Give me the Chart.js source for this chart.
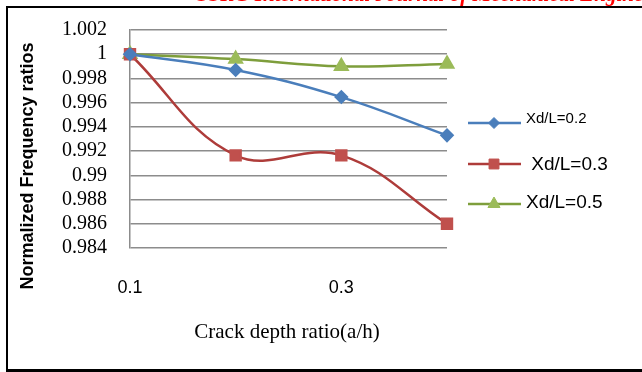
<!DOCTYPE html>
<html>
<head>
<meta charset="utf-8">
<script src="https://cdn.jsdelivr.net/npm/chart.js@4.4.1/dist/chart.umd.min.js"></script>
<style>
  html, body { margin: 0; padding: 0; background: #fff; }
  #wrap { position: relative; width: 642px; height: 372px; overflow: hidden; background: #fff; }
  #chart { position: absolute; left: 0; top: 0; }
  #journal { position: absolute; left: 197px; top: -16px; white-space: nowrap;
    font: italic bold 21px "Liberation Serif", "Times New Roman", serif; color: #ff0000; line-height: 21px; }
  .fl { position: absolute; background: #000; }
</style>
</head>
<body>
<div id="wrap">
  <canvas id="chart" width="642" height="372"></canvas>
  <div id="journal">SSRG International Journal of Mechanical Engineering</div>
  <div class="fl" style="left:6px; top:6px; width:636px; height:2px;"></div>
  <div class="fl" style="left:6px; top:6px; width:2px; height:365px;"></div>
  <div class="fl" style="left:6px; top:369px; width:636px; height:3px;"></div>
</div>
<script>
// ---- data ----
const categories = ['0.1', '0.2', '0.3', '0.4'];
const xTickLabels = ['0.1', '', '0.3', ''];
const seriesNames = ['Xd/L=0.2', ' Xd/L=0.3', 'Xd/L=0.5'];
const seriesA = [1.0000, 0.9987, 0.99646, 0.9933];   // Xd/L=0.2
const seriesB = [1.0000, 0.99165, 0.99165, 0.9860];  // Xd/L=0.3
const seriesC = [1.0000, 0.9996, 0.9990, 0.9992];    // Xd/L=0.5
const yTickValues = [0.984, 0.986, 0.988, 0.990, 0.992, 0.994, 0.996, 0.998, 1.000, 1.002];
const xTitle = 'Crack depth ratio(a/h)';
const yTitle = 'Normalized Frequency ratios';

const legendLayout = [
  { lineY: 123, textY: 119, textX: 526, font: '15px "Liberation Sans", Arial, sans-serif' },
  { lineY: 164, textY: 165, textX: 526, font: '19px "Liberation Sans", Arial, sans-serif' },
  { lineY: 204, textY: 203, textX: 526, font: '19px "Liberation Sans", Arial, sans-serif' }
];

const extras = {
  id: 'extras',
  afterDraw(chart) {
    const ctx = chart.ctx;
    ctx.save();
    // y title
    ctx.fillStyle = '#000';
    ctx.font = 'bold 18px "Liberation Sans", Arial, sans-serif';
    ctx.textAlign = 'center';
    ctx.textBaseline = 'middle';
    ctx.translate(28, 166);
    ctx.rotate(-Math.PI / 2);
    ctx.fillText(yTitle, 0, 0);
    ctx.restore();
    ctx.save();
    // x title
    ctx.fillStyle = '#000';
    ctx.font = '21px "Liberation Serif", "Times New Roman", serif';
    ctx.textAlign = 'center';
    ctx.textBaseline = 'middle';
    ctx.fillText(xTitle, 287, 332);
    // legend
    chart.data.datasets.forEach((ds, i) => {
      const L = legendLayout[i];
      ctx.strokeStyle = ds.borderColor;
      ctx.lineWidth = ds.borderWidth;
      ctx.beginPath();
      ctx.moveTo(468, L.lineY);
      ctx.lineTo(521, L.lineY);
      ctx.stroke();
      ctx.fillStyle = ds.pointBackgroundColor;
      ctx.strokeStyle = ds.pointBorderColor;
      ctx.lineWidth = 1;
      Chart.helpers.drawPoint(ctx, { pointStyle: ds.pointStyle, radius: ds.pointRadius, borderWidth: 1, rotation: 0 }, 494, L.lineY);
      ctx.fillStyle = '#000';
      ctx.font = L.font;
      ctx.textAlign = 'left';
      ctx.textBaseline = 'middle';
      ctx.fillText(ds.label, L.textX, L.textY);
    });
    ctx.restore();
  }
};

new Chart(document.getElementById('chart'), {
  type: 'line',
  data: {
    labels: categories,
    datasets: [
      { label: seriesNames[0], data: seriesA, borderColor: '#4A7EBB', borderWidth: 2.5,
        pointStyle: 'rectRot', pointRadius: 5.5, pointBackgroundColor: '#4A7EBB', pointBorderColor: '#4A7EBB', tension: 0.4 },
      { label: seriesNames[1], data: seriesB, borderColor: '#AE3C3A', borderWidth: 2.5,
        pointStyle: 'rect', pointRadius: 7, pointBackgroundColor: '#C0504D', pointBorderColor: '#C0504D', tension: 0.4 },
      { label: seriesNames[2], data: seriesC, borderColor: '#7E9E3C', borderWidth: 2.5,
        pointStyle: 'triangle', pointRadius: 7, pointBackgroundColor: '#9BBB59', pointBorderColor: '#9BBB59', tension: 0.4 }
    ]
  },
  options: {
    responsive: false,
    animation: false,
    devicePixelRatio: 1,
    layout: { padding: { left: 0, right: 195, top: 30, bottom: 0 } },
    plugins: { legend: { display: false }, tooltip: { enabled: false } },
    scales: {
      x: {
        offset: false,
        grid: { display: false, drawTicks: false },
        border: { display: false },
        ticks: {
          autoSkip: false, maxRotation: 0, padding: 29,
          color: '#000', font: { family: '"Liberation Sans", Arial, sans-serif', size: 18 },
          callback: (v, i) => xTickLabels[i]
        },
        afterFit: s => { s.height = 124; }
      },
      y: {
        min: 0.984, max: 1.002,
        afterBuildTicks: s => { s.ticks = yTickValues.map(v => ({ value: v })); },
        grid: { color: '#8c8c8c', lineWidth: 1.5, drawTicks: true, tickLength: 16, tickColor: 'rgba(0,0,0,0)' },
        border: { display: true, color: '#8c8c8c', width: 1.5 },
        ticks: {
          autoSkip: false, padding: 7, color: '#000',
          font: { family: '"Liberation Serif", "Times New Roman", serif', size: 20 },
          callback: v => String(Number(v.toFixed(3)))
        },
        afterFit: s => { s.width = 130; }
      }
    }
  },
  plugins: [extras]
});
</script>
</body>
</html>
